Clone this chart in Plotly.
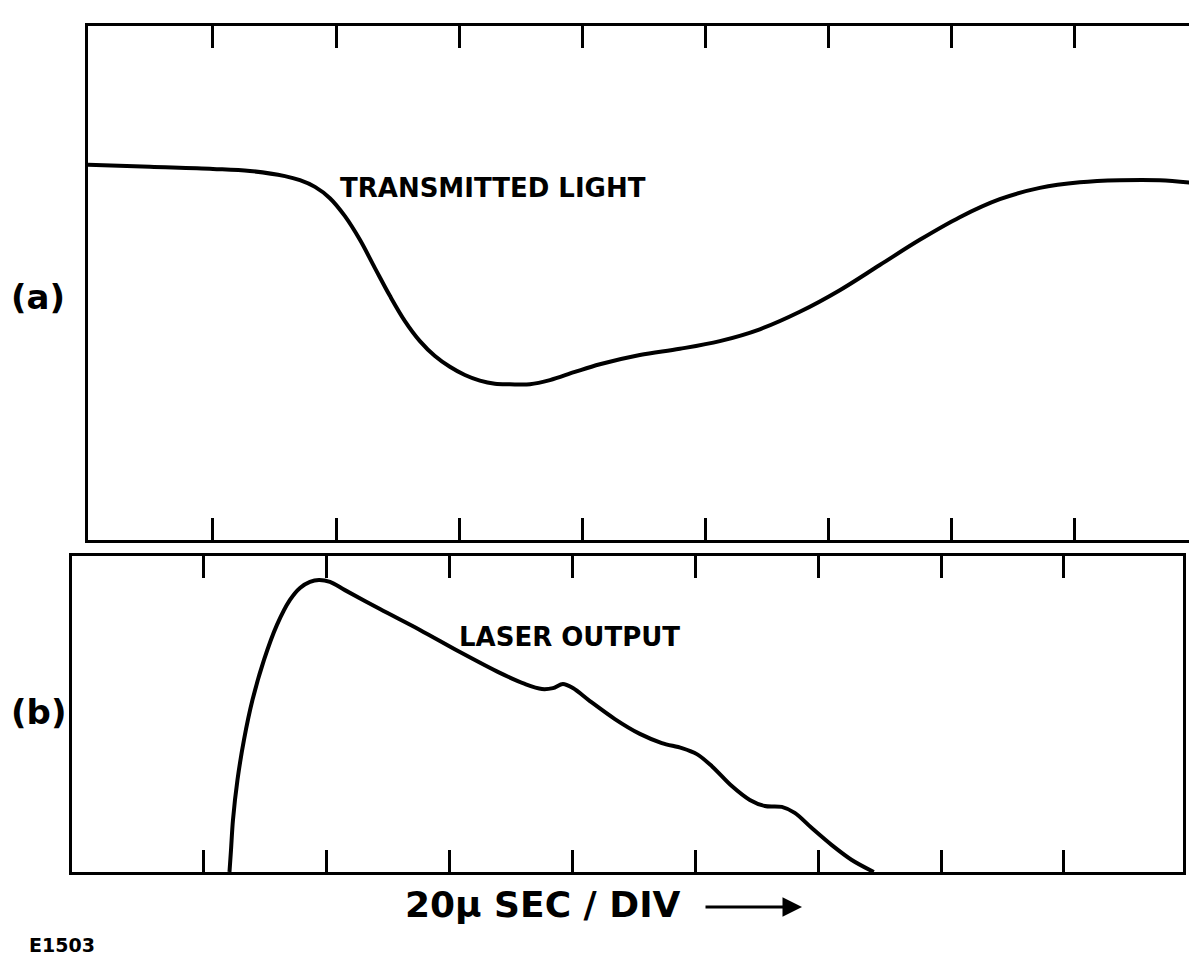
import plotly.graph_objects as go

# time in microseconds (20 us per division), amplitude in arbitrary units (0-10 = frame height)
time_a = [-0.31, 9.76, 20.00, 26.01, 31.70, 34.14, 36.58, 39.01, 41.45, 43.89, 46.33, 48.76,
          51.20, 53.64, 56.08, 58.51, 60.95, 63.39, 65.83, 68.27, 71.52, 74.77, 78.83, 82.89,
          89.39, 95.89, 102.39, 108.89, 115.39, 121.89, 128.39, 134.89, 141.39, 147.90,
          154.40, 160.90, 167.40, 173.90, 179.26]
transmitted = [7.30, 7.26, 7.22, 7.18, 7.08, 7.00, 6.87, 6.65, 6.30, 5.84, 5.29, 4.75,
               4.26, 3.87, 3.58, 3.37, 3.21, 3.10, 3.04, 3.03, 3.03, 3.11, 3.27, 3.42,
               3.60, 3.72, 3.87, 4.10, 4.44, 4.86, 5.35, 5.84, 6.28, 6.63,
               6.85, 6.96, 7.00, 7.00, 6.95]

time_b = [24.15, 24.40, 24.72, 25.45, 26.51, 27.89, 29.77, 31.88, 34.00, 35.63, 37.25, 38.72,
          40.51, 42.95, 48.65, 55.16, 61.67, 68.18, 72.25, 75.02, 76.81, 78.44, 80.07, 82.83,
          86.90, 90.97, 94.55, 97.81, 100.25, 102.69, 105.94, 108.87, 111.31, 114.08, 116.19,
          118.96, 122.22, 125.47, 129.05]
laser = [0.0, 0.70, 1.65, 2.91, 4.18, 5.44, 6.71, 7.82, 8.61, 8.99, 9.18, 9.24,
         9.18, 8.92, 8.32, 7.66, 6.96, 6.30, 5.95, 5.79, 5.82, 5.95, 5.82, 5.41,
         4.84, 4.37, 4.08, 3.92, 3.73, 3.35, 2.72, 2.28, 2.09, 2.06, 1.87,
         1.39, 0.85, 0.38, 0.0]

div_ticks = [20, 40, 60, 80, 100, 120, 140, 160]

# figure is placed by the page with an 8px body margin
OFF = 8
W, H = 1189, 953


def fx(px):
    return (px - OFF) / W


def fy(py):
    return 1 - (py - OFF) / H


fig = go.Figure()
fig.add_trace(go.Scatter(x=time_a, y=transmitted, mode="lines", xaxis="x", yaxis="y",
                         line=dict(color="black", width=4, shape="spline", smoothing=1.0),
                         showlegend=False, hoverinfo="skip"))
fig.add_trace(go.Scatter(x=time_b, y=laser, mode="lines", xaxis="x2", yaxis="y2",
                         line=dict(color="black", width=4, shape="spline", smoothing=0.9),
                         showlegend=False, hoverinfo="skip"))

xcommon = dict(showline=True, linecolor="black", linewidth=3, mirror="ticks",
               ticks="inside", ticklen=22, tickwidth=2.5, tickcolor="black",
               tickvals=div_ticks, showticklabels=False, showgrid=False, zeroline=False,
               fixedrange=True)
ycommon = dict(showline=True, linecolor="black", linewidth=3, mirror=True,
               ticks="", showticklabels=False, showgrid=False, zeroline=False,
               range=[0, 10], fixedrange=True)

fig.update_layout(
    width=W, height=H,
    margin=dict(l=0, r=0, t=0, b=0),
    paper_bgcolor="white", plot_bgcolor="white",
    xaxis=dict(domain=[fx(88), fx(1193)], range=[-0.31, 179.3], anchor="y", **xcommon),
    yaxis=dict(domain=[fy(540), fy(26)], anchor="x", **ycommon),
    xaxis2=dict(domain=[fx(72), fx(1183)], range=[-1.49, 179.4], anchor="y2", **xcommon),
    yaxis2=dict(domain=[fy(872), fy(556)], anchor="x2", **ycommon),
)

font_main = "DejaVu Sans"
ann = [
    dict(text="TRANSMITTED LIGHT", x=fx(338), y=fy(188), xanchor="left", yanchor="middle",
         font=dict(family=font_main, size=26, color="black", weight="bold")),
    dict(text="LASER OUTPUT", x=fx(457), y=fy(637), xanchor="left", yanchor="middle",
         font=dict(family=font_main, size=26, color="black", weight="bold")),
    dict(text="(a)", x=fx(9), y=fy(297), xanchor="left", yanchor="middle",
         font=dict(family=font_main, size=34, color="black", weight="bold")),
    dict(text="(b)", x=fx(9), y=fy(712), xanchor="left", yanchor="middle",
         font=dict(family=font_main, size=34, color="black", weight="bold")),
    dict(text="E1503", x=fx(27), y=fy(945), xanchor="left", yanchor="middle",
         font=dict(family=font_main, size=19, color="black", weight="bold")),
    dict(text="20μ SEC / DIV", x=fx(403), y=fy(904), xanchor="left", yanchor="middle",
         font=dict(family=font_main, size=36, color="black", weight="bold")),
]
for a in ann:
    a.update(xref="paper", yref="paper", showarrow=False)
    fig.add_annotation(**a)

fig.add_annotation(x=fx(802), y=fy(907), xref="paper", yref="paper", text="",
                   showarrow=True, ax=-98, ay=0, arrowhead=2, arrowsize=1.3,
                   arrowwidth=3, arrowcolor="black")

fig.write_html("out.html")
